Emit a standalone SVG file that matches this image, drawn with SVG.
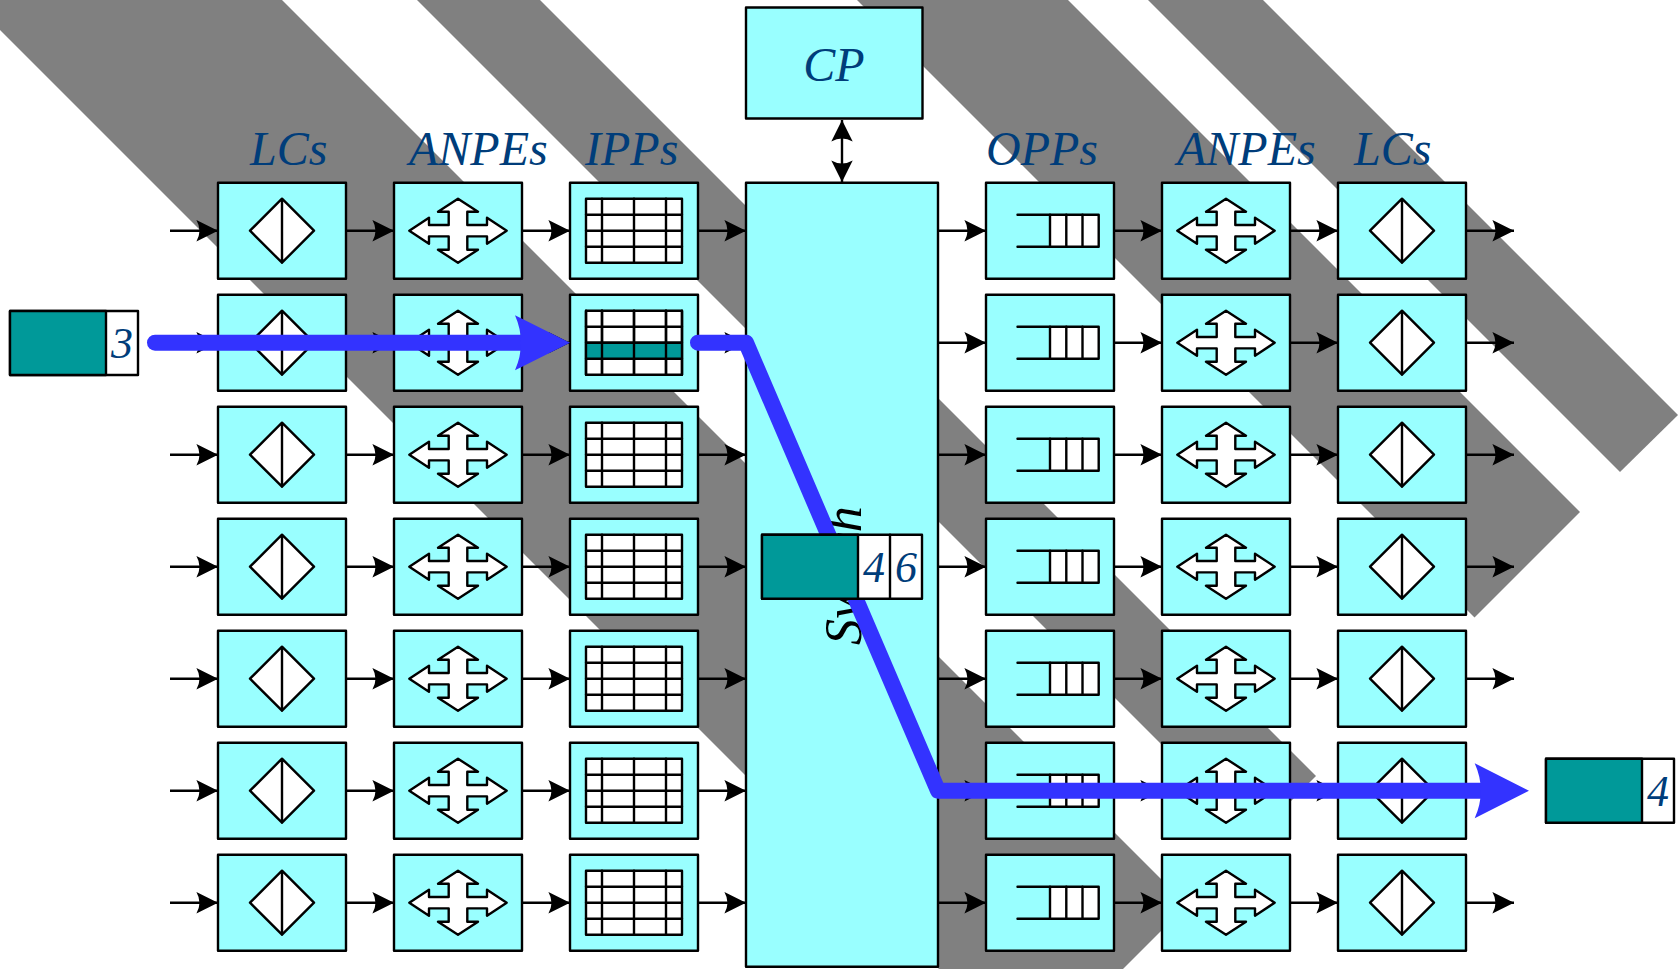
<svg xmlns="http://www.w3.org/2000/svg" width="1679" height="969" viewBox="0 0 1679 969">
<style>
.box{fill:#99ffff;stroke:#000;stroke-width:2.4;stroke-linejoin:round}
.ic{fill:#fff;stroke:#000;stroke-width:2.4;stroke-linejoin:round;stroke-linecap:round}
.ln{fill:none;stroke:#000;stroke-width:2.4;stroke-linecap:round}
.pk{fill:#fff;stroke:#000;stroke-width:2.4;stroke-linejoin:round}
.tl{fill:#009999;stroke:#000;stroke-width:2.4;stroke-linejoin:round}
.band{fill:#808080}
.t{font-family:"Liberation Serif","Times New Roman",serif;font-style:italic;font-size:48px;fill:#003d7a}
.d{font-size:44px;text-anchor:middle}
.c{stroke:#000;stroke-width:2.4;fill:none}
.blue{fill:none;stroke:#3333ff;stroke-width:16;stroke-linecap:round;stroke-linejoin:round}
</style>
<defs>
<marker id="ah" markerUnits="userSpaceOnUse" markerWidth="24" markerHeight="24" refX="22" refY="12" orient="auto-start-reverse" viewBox="0 0 24 24"><path d="M0.4,1.3 L22,12 L0.4,22.7 Q6.5,12 0.4,1.3Z" fill="#000"/></marker>
<g id="lc"><rect class="box" x="218" y="182.7" width="128" height="96"/><path class="ic" d="M282,198.7 L314,230.7 L282,262.7 L250,230.7Z M282,198.7 V262.7"/></g>
<g id="an"><rect class="box" x="394" y="182.7" width="128" height="96"/><path class="ic" d="M458,198.7 L478,211.7 H467.3 V225 H487 V217.7 L506.7,230.7 L487,243.7 V236.4 H467.3 V249.7 H478 L458,262.7 L438,249.7 H448.7 V236.4 H429 V243.7 L409.3,230.7 L429,217.7 V225 H448.7 V211.7 H438Z"/></g>
<g id="ip"><rect class="box" x="570" y="182.7" width="128" height="96"/><rect class="ic" x="586" y="198.7" width="96" height="64"/><path class="ln" d="M602,198.7 V262.7 M634,198.7 V262.7 M666,198.7 V262.7 M586,214.7 H682 M586,230.7 H682 M586,246.7 H682"/></g>
<g id="op"><rect class="box" x="986" y="182.7" width="128" height="96"/><rect class="ic" x="1050" y="214.7" width="48.7" height="32"/><path class="ln" d="M1017.5,214.7 H1050 M1017.5,246.7 H1050 M1066.3,214.7 V246.7 M1082.5,214.7 V246.7"/></g>
</defs>
<g id="bands">
<polygon class="band" points="-30,0 282,0 1187,905 1031,1061"/>
<polygon class="band" points="417,0 540,0 1316,776 1254.5,837.5"/>
<polygon class="band" points="857,0 1068,0 1580,512 1474.5,617.5"/>
<polygon class="band" points="1148,0 1263,0 1678,415 1620,472"/>
</g>
<g id="nodes-lc-in">
<use id="lc1" href="#lc"/><use id="lc2" href="#lc" y="112"/><use id="lc3" href="#lc" y="224"/><use id="lc4" href="#lc" y="336"/><use id="lc5" href="#lc" y="448"/><use id="lc6" href="#lc" y="560"/><use id="lc7" href="#lc" y="672"/>
</g>
<g id="nodes-anpe-in">
<use id="an1" href="#an"/><use id="an2" href="#an" y="112"/><use id="an3" href="#an" y="224"/><use id="an4" href="#an" y="336"/><use id="an5" href="#an" y="448"/><use id="an6" href="#an" y="560"/><use id="an7" href="#an" y="672"/>
</g>
<g id="nodes-ipp">
<use id="ip1" href="#ip"/><g id="ip2"><use href="#ip" y="112"/><rect x="586" y="342.7" width="96" height="16" fill="#009999"/><path class="ln" d="M586,342.7 H682 M586,358.7 H682 M586,310.7 V374.7 M602,310.7 V374.7 M634,310.7 V374.7 M666,310.7 V374.7 M682,310.7 V374.7"/></g><use id="ip3" href="#ip" y="224"/><use id="ip4" href="#ip" y="336"/><use id="ip5" href="#ip" y="448"/><use id="ip6" href="#ip" y="560"/><use id="ip7" href="#ip" y="672"/>
</g>
<g id="cp"><rect class="box" x="746" y="7.5" width="176.5" height="111"/><text class="t" x="834" y="81" text-anchor="middle">CP</text></g>
<g id="switch"><rect class="box" x="746" y="182.7" width="192" height="784"/><text x="861" y="645" transform="rotate(-90 861 645)" font-family="Liberation Serif" font-style="italic" font-size="52" fill="#000">Switch</text></g>
<g id="nodes-opp">
<use id="op1" href="#op"/><use id="op2" href="#op" y="112"/><use id="op3" href="#op" y="224"/><use id="op4" href="#op" y="336"/><use id="op5" href="#op" y="448"/><use id="op6" href="#op" y="560"/><use id="op7" href="#op" y="672"/>
</g>
<g id="nodes-anpe-out">
<use id="ao1" href="#an" x="768"/><use id="ao2" href="#an" x="768" y="112"/><use id="ao3" href="#an" x="768" y="224"/><use id="ao4" href="#an" x="768" y="336"/><use id="ao5" href="#an" x="768" y="448"/><use id="ao6" href="#an" x="768" y="560"/><use id="ao7" href="#an" x="768" y="672"/>
</g>
<g id="nodes-lc-out">
<use id="lo1" href="#lc" x="1120"/><use id="lo2" href="#lc" x="1120" y="112"/><use id="lo3" href="#lc" x="1120" y="224"/><use id="lo4" href="#lc" x="1120" y="336"/><use id="lo5" href="#lc" x="1120" y="448"/><use id="lo6" href="#lc" x="1120" y="560"/><use id="lo7" href="#lc" x="1120" y="672"/>
</g>
<g id="connectors" class="c">
<path marker-start="url(#ah)" marker-end="url(#ah)" d="M842,120 V182"/>
<path marker-end="url(#ah)" d="M170,230.7 H218"/><path marker-end="url(#ah)" d="M346,230.7 H394"/><path marker-end="url(#ah)" d="M522,230.7 H570"/><path marker-end="url(#ah)" d="M698,230.7 H746"/><path marker-end="url(#ah)" d="M938,230.7 H986"/><path marker-end="url(#ah)" d="M1114,230.7 H1162"/><path marker-end="url(#ah)" d="M1290,230.7 H1338"/><path marker-end="url(#ah)" d="M1466,230.7 H1514"/>
<path marker-end="url(#ah)" d="M170,342.7 H218"/><path marker-end="url(#ah)" d="M346,342.7 H394"/><path marker-end="url(#ah)" d="M522,342.7 H570"/><path marker-end="url(#ah)" d="M698,342.7 H746"/><path marker-end="url(#ah)" d="M938,342.7 H986"/><path marker-end="url(#ah)" d="M1114,342.7 H1162"/><path marker-end="url(#ah)" d="M1290,342.7 H1338"/><path marker-end="url(#ah)" d="M1466,342.7 H1514"/>
<path marker-end="url(#ah)" d="M170,454.7 H218"/><path marker-end="url(#ah)" d="M346,454.7 H394"/><path marker-end="url(#ah)" d="M522,454.7 H570"/><path marker-end="url(#ah)" d="M698,454.7 H746"/><path marker-end="url(#ah)" d="M938,454.7 H986"/><path marker-end="url(#ah)" d="M1114,454.7 H1162"/><path marker-end="url(#ah)" d="M1290,454.7 H1338"/><path marker-end="url(#ah)" d="M1466,454.7 H1514"/>
<path marker-end="url(#ah)" d="M170,566.7 H218"/><path marker-end="url(#ah)" d="M346,566.7 H394"/><path marker-end="url(#ah)" d="M522,566.7 H570"/><path marker-end="url(#ah)" d="M698,566.7 H746"/><path marker-end="url(#ah)" d="M938,566.7 H986"/><path marker-end="url(#ah)" d="M1114,566.7 H1162"/><path marker-end="url(#ah)" d="M1290,566.7 H1338"/><path marker-end="url(#ah)" d="M1466,566.7 H1514"/>
<path marker-end="url(#ah)" d="M170,678.7 H218"/><path marker-end="url(#ah)" d="M346,678.7 H394"/><path marker-end="url(#ah)" d="M522,678.7 H570"/><path marker-end="url(#ah)" d="M698,678.7 H746"/><path marker-end="url(#ah)" d="M938,678.7 H986"/><path marker-end="url(#ah)" d="M1114,678.7 H1162"/><path marker-end="url(#ah)" d="M1290,678.7 H1338"/><path marker-end="url(#ah)" d="M1466,678.7 H1514"/>
<path marker-end="url(#ah)" d="M170,790.7 H218"/><path marker-end="url(#ah)" d="M346,790.7 H394"/><path marker-end="url(#ah)" d="M522,790.7 H570"/><path marker-end="url(#ah)" d="M698,790.7 H746"/><path marker-end="url(#ah)" d="M938,790.7 H986"/><path marker-end="url(#ah)" d="M1114,790.7 H1162"/><path marker-end="url(#ah)" d="M1290,790.7 H1338"/><path marker-end="url(#ah)" d="M1466,790.7 H1514"/>
<path marker-end="url(#ah)" d="M170,902.7 H218"/><path marker-end="url(#ah)" d="M346,902.7 H394"/><path marker-end="url(#ah)" d="M522,902.7 H570"/><path marker-end="url(#ah)" d="M698,902.7 H746"/><path marker-end="url(#ah)" d="M938,902.7 H986"/><path marker-end="url(#ah)" d="M1114,902.7 H1162"/><path marker-end="url(#ah)" d="M1290,902.7 H1338"/><path marker-end="url(#ah)" d="M1466,902.7 H1514"/>
</g>
<g id="labels">
<text class="t" x="250" y="165">LCs</text><text class="t" x="409" y="165">ANPEs</text><text class="t" x="585" y="165">IPPs</text><text class="t" x="986" y="165">OPPs</text><text class="t" x="1177" y="165">ANPEs</text><text class="t" x="1354" y="165">LCs</text>
</g>
<g id="path-in">
<path class="blue" d="M155,342.7 H530"/><path fill="#3333ff" d="M570,342.7 L515,370.2 Q527,342.7 515,315.2Z"/>
</g>
<g id="path-out">
<path class="blue" d="M698,342.7 H746 L938,790.7 H1495"/><path fill="#3333ff" d="M1529,790.7 L1474.7,818.2 Q1487,790.7 1474.7,763.2Z"/>
</g>
<g id="packet-in"><rect class="pk" x="10" y="311" width="128" height="64"/><rect class="tl" x="10" y="311" width="96" height="64"/><text class="t d" x="122" y="358">3</text></g>
<g id="packet-mid"><rect class="pk" x="762" y="534.7" width="160" height="64"/><rect class="tl" x="762" y="534.7" width="96" height="64"/><path class="ln" d="M890,534.7 V598.7"/><text class="t d" x="874" y="582">4</text><text class="t d" x="906" y="582">6</text></g>
<g id="packet-out"><rect class="pk" x="1546" y="758.7" width="128" height="64"/><rect class="tl" x="1546" y="758.7" width="96" height="64"/><text class="t d" x="1658" y="806">4</text></g>
</svg>
